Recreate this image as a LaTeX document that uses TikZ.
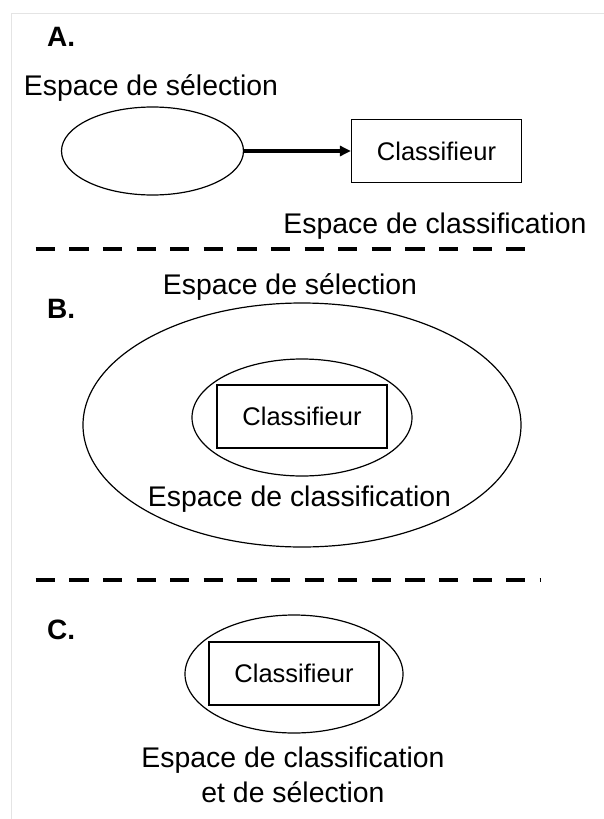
\documentclass[tikz,border=0pt]{standalone}
\usepackage{fontspec}
\setmainfont{Liberation Sans}
\usepackage{tikz}
\usetikzlibrary{arrows.meta, positioning, shapes.geometric}
\definecolor{frameline}{RGB}{228,228,228}

\begin{document}
\begin{tikzpicture}[x=1pt, y=-1pt,
    space/.style={ellipse, draw, line width=1.2pt, inner sep=0pt},
    clfbox/.style={rectangle, draw, line width=1.2pt, inner sep=0pt,
        minimum width=170pt, minimum height=63pt,
        font=\fontsize{25.5}{30}\selectfont},
    lbl/.style={inner sep=0pt, anchor=base, font=\fontsize{28.4}{35}\selectfont},
    panel/.style={inner sep=0pt, anchor=base west, font=\fontsize{28}{32}\selectfont\bfseries},
    sep/.style={line width=4pt, dash pattern=on 19.3pt off 14.3pt},
    arrow/.style={-{Triangle[length=11pt, width=10pt]}, line width=3.4pt}
]
\useasboundingbox (0,0) rectangle (604,819);
\draw[frameline, line width=1pt] (11,819) -- (11,13) -- (604,13);

% A.
\node[panel] (labA) at (47,46) {A.};
\node[lbl] (selA) at (151,95) {Espace de sélection};
\node[space, minimum width=182pt, minimum height=88pt] (ellA) at (152.5,151) {};
\node[clfbox] (clfA) at (436.5,151) {Classifieur};
\node[lbl] (clsA) at (435,233) {Espace de classification};
\draw[arrow] (ellA.east) -- (clfA.west);

\coordinate (sep1a) at (35.7,249.3);
\coordinate (sep1b) at (527,249.3);
\draw[sep] (sep1a) -- (sep1b);

% B.
\node[panel] (labB) at (47,318) {B.};
\node[lbl] (selB) at (290,294) {Espace de sélection};
\node[space, minimum width=438pt, minimum height=244pt] (outB) at (302,425) {};
\node[space, minimum width=220pt, minimum height=117pt] (inB) at (302,417.5) {};
\node[clfbox] (clfB) at (302,416.5) {Classifieur};
\node[lbl] (clsB) at (299.5,506.7) {Espace de classification};

\coordinate (sep2a) at (35.7,580);
\coordinate (sep2b) at (541,580);
\draw[sep] (sep2a) -- (sep2b);

% C.
\node[panel] (labC) at (47,639) {C.};
\node[space, minimum width=218pt, minimum height=118pt] (ellC) at (294,674) {};
\node[clfbox] (clfC) at (294,673.5) {Classifieur};
\node[lbl, anchor=north, align=center] (clsC) at (293,746.3)
    {Espace de classification\\et de sélection};
\end{tikzpicture}
\end{document}
